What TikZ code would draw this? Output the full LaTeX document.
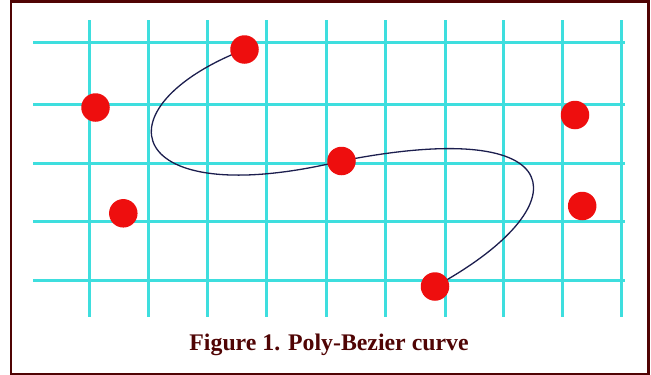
\documentclass[tikz,border=0pt]{standalone}
\usepackage{fontspec}
\setmainfont{Liberation Serif}
\usepackage{tikz}
\definecolor{GridCyan}{RGB}{62,222,222}
\definecolor{DotRed}{RGB}{238,14,14}
\definecolor{CurveNavy}{RGB}{28,30,78}
\definecolor{FrameMaroon}{RGB}{80,4,4}

\begin{document}
\begin{tikzpicture}[x=1pt,y=-1pt,
  gridline/.style={GridCyan,line width=3pt},
  ctrldot/.style={circle,fill=DotRed,inner sep=0pt,minimum size=28.5pt}]
  \useasboundingbox (0,0) rectangle (651,375);
  \draw[FrameMaroon,line width=2.6pt] (11,1.3) rectangle (648.2,373.8);
  % grid
  \foreach \gx in {89.5,148,207.5,266.5,326,385,445,503.5,562.5,621.5}
    \draw[gridline] (\gx,20) -- (\gx,316.5);
  \foreach \gy in {42.7,104.3,163,221.7,280.3}
    \draw[gridline] (33,\gy) -- (624.5,\gy);
  % control points
  \coordinate (p1) at (95.5,107.5);
  \coordinate (p2) at (244.5,49.5);
  \coordinate (p3) at (341.5,161);
  \coordinate (p4) at (123.3,213.3);
  \coordinate (p5) at (435,286.5);
  \coordinate (p6) at (575,115);
  \coordinate (p7) at (582.2,206);
  \draw[CurveNavy,line width=1.3pt] (p2) .. controls (p1) and (p4) .. (p3)
    .. controls (p6) and (p7) .. (p5);
  \foreach \p in {p1,p2,p3,p4,p5,p6,p7}
    \node[ctrldot] (dot\p) at (\p) {};
  \node[FrameMaroon,font=\bfseries\fontsize{23.8}{26}\selectfont,anchor=base] (cap) at (329,350.7)
    {Figure 1. Poly-Bezier curve};
\end{tikzpicture}
\end{document}
